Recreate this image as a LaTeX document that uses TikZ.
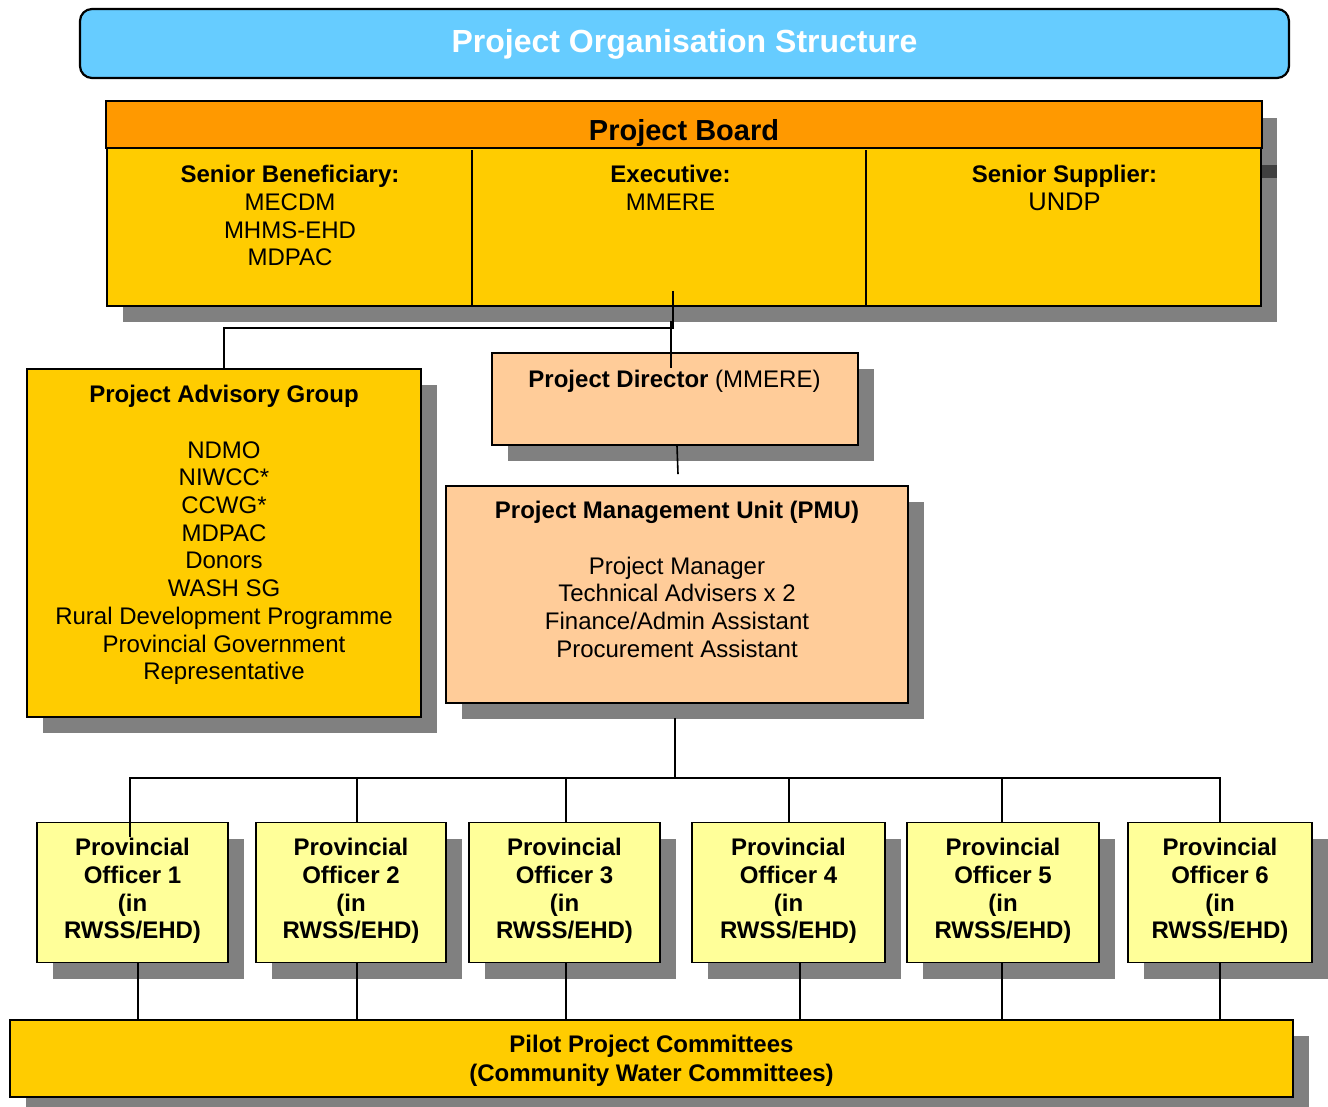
\documentclass[tikz,border=0pt]{standalone}
\usepackage{fontspec}
\setmainfont{Liberation Sans}
\usetikzlibrary{shadows}
\definecolor{tblue}{HTML}{66CCFF}
\definecolor{borange}{HTML}{FF9900}
\definecolor{bgold}{HTML}{FFCC00}
\definecolor{bpeach}{HTML}{FFCC99}
\definecolor{byellow}{HTML}{FFFF99}
\definecolor{shgray}{HTML}{808080}
\definecolor{shdark}{HTML}{404040}
\newcommand{\fsn}{\fontsize{24}{27.7}\selectfont}
\begin{document}
\begin{tikzpicture}[x=1pt,y=-1pt,
  box/.style={draw=black, line width=1.8pt, rectangle, inner sep=0pt,
    drop shadow={shadow xshift=16pt, shadow yshift=-16pt, fill=shgray, opacity=1}},
  txt/.style={anchor=north, inner sep=0pt, align=center, font=\fsn},
  conn/.style={draw=black, line width=1.6pt}]
\useasboundingbox (0,0) rectangle (1328,1107);

% title
\node[draw=black, line width=2.2pt, fill=tblue, rounded corners=12pt,
  minimum width=1209pt, minimum height=69pt, inner sep=0pt] (title) at (684.5,43.5) {};
\node[anchor=base, inner sep=0pt, text=white, font=\fontsize{32}{36}\selectfont\bfseries]
  (titletxt) at (684.5,53) {Project Organisation Structure};

% project board
\node[box, fill=bgold, minimum width=1154pt, minimum height=204pt] (board) at (684,204) {};
\filldraw[fill=borange, draw=black, line width=1.8pt] (board.north west) rectangle ([yshift=-47pt]board.north east);
\fill[shdark] (1262,165) rectangle (1277,178);
\draw[line width=1.8pt] ([xshift=366pt]board.south west) -- ++(0,-157);
\draw[line width=1.8pt] ([xshift=760pt]board.south west) -- ++(0,-157);
\node[anchor=base, inner sep=0pt, font=\fontsize{29}{33}\selectfont\bfseries] (pbtxt) at (684,140.4) {Project Board};
\node[txt] (sbtxt) at (290,163.2) {\strut\textbf{Senior Beneficiary:}\\MECDM\\MHMS-EHD\\MDPAC};
\node[txt] (extxt) at (670.5,163.2) {\strut\textbf{Executive:}\\MMERE};
\node[txt] (sstxt) at (1064.5,163.2) {\strut\textbf{Senior Supplier:}\\{\fontsize{25.5}{27.7}\selectfont UNDP}};

% advisory group
\node[box, fill=bgold, minimum width=394pt, minimum height=348pt] (pag) at (224,543) {};
\node[txt] (pagtxt) at (224,383.2) {\strut\textbf{Project Advisory Group}\\[27.7pt]NDMO\\NIWCC*\\CCWG*\\MDPAC\\Donors\\WASH SG\\Rural Development Programme\\Provincial Government\\Representative};

% project director
\node[box, fill=bpeach, minimum width=366pt, minimum height=92pt] (pd) at (675,399) {};
\node[anchor=base, inner sep=0pt, font=\fsn] (pdtxt) at (674.5,387.6) {\textbf{Project Director} (MMERE)};

% PMU
\node[box, fill=bpeach, minimum width=462pt, minimum height=217pt] (pmu) at (677,594.5) {};
\node[txt] (pmutxt) at (677,499.2) {\strut\textbf{Project Management Unit (PMU)}\\[27.7pt]Project Manager\\Technical Advisers x 2\\Finance/Admin Assistant\\Procurement Assistant};

% provincial officers
\foreach \i/\x/\w in {1/132.5/191,2/351/190,3/564.5/191,4/788.5/193,5/1003/192,6/1220/184}{
  \node[box, fill=byellow, minimum width=\w pt, minimum height=140pt] (po\i) at (\x,892.5) {};
  \node[txt, font=\fsn\bfseries] (pot\i) at (\x,836.2) {\strut Provincial\\Officer \i\\(in\\RWSS/EHD)};
}

% pilot committees
\node[box, fill=bgold, minimum width=1283pt, minimum height=77pt] (pilot) at (651.5,1058.5) {};
\node[txt, font=\fontsize{24}{29}\selectfont\bfseries] (piltxt) at (651.5,1032.4) {\strut Pilot Project Committees\\(Community Water Committees)};

% connectors
\draw[conn] ([xshift=-11pt,yshift=16pt]board.south) |- ([yshift=40pt]pag.north) -- (pag.north);
\draw[conn] ([xshift=-4pt,yshift=31pt]pd.north) -- ([xshift=-4pt,yshift=-16pt]pd.north);
\draw[conn] ([xshift=2pt]pd.south) -- ([xshift=1pt,yshift=11pt]pmu.north);
\coordinate (bus) at ([xshift=-2pt,yshift=-74pt]pmu.south);
\draw[conn] ([xshift=-2pt,yshift=-14pt]pmu.south) -- (bus);
\draw[conn] (bus) -| ([xshift=-2.5pt,yshift=-15pt]po1.north);
\draw[conn] (bus) -| ([xshift=6pt]po2.north);
\draw[conn] (bus) -| ([xshift=1.5pt]po3.north);
\draw[conn] (bus) -| ([xshift=0.5pt]po4.north);
\draw[conn] (bus) -| ([xshift=-1pt]po5.north);
\draw[conn] (bus) -| (po6.north);
\foreach \i/\s in {1/5.5,2/6,3/1.5,4/11.5,5/-1,6/0}{
  \draw[conn] ([xshift=\s pt]po\i.south) -- ([xshift=\s pt]po\i.south |- pilot.north);
}
\end{tikzpicture}
\end{document}
